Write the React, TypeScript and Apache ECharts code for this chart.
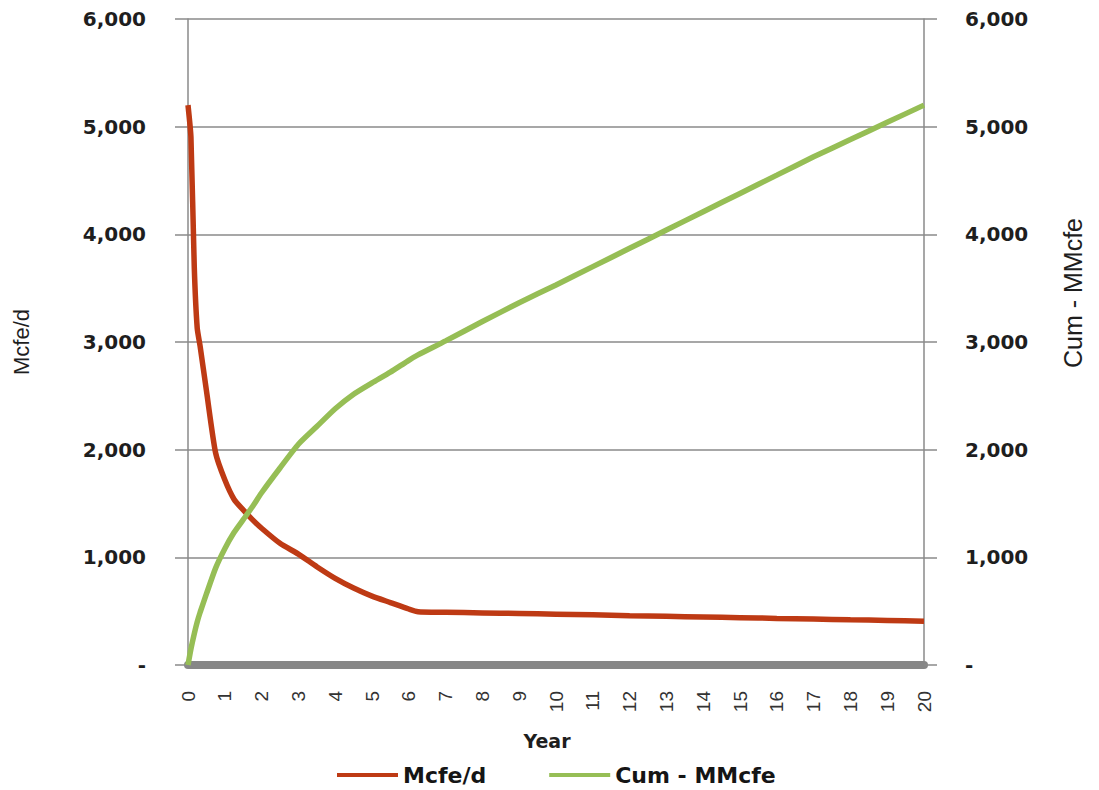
import React, { useEffect, useRef } from "react";
import * as echarts from "echarts";

const years = [0, 0.08, 0.17, 0.25, 0.33, 0.5, 0.75, 1, 1.25, 1.5, 1.75, 2, 2.5, 3, 3.5, 4, 4.5, 5, 5.5, 6, 6.25, 7, 8, 9, 10, 11, 12, 13, 14, 15, 16, 17, 18, 19, 20];
const mcfePerDay = [5200, 4900, 3700, 3130, 2960, 2550, 1970, 1720, 1540, 1440, 1350, 1270, 1130, 1030, 913, 805, 715, 640, 580, 520, 495, 490, 484, 478, 472, 466, 458, 452, 446, 440, 433, 427, 420, 414, 407];
const cumMMcfe = [0, 150, 290, 400, 490, 660, 900, 1080, 1230, 1350, 1470, 1600, 1830, 2050, 2215, 2380, 2515, 2620, 2720, 2830, 2880, 3010, 3190, 3365, 3530, 3700, 3870, 4040, 4210, 4380, 4550, 4720, 4880, 5040, 5200];
const seriesNames = ["Mcfe/d", "Cum - MMcfe"];
const xAxisTitle = "Year";
const leftAxisTitle = "Mcfe/d";
const rightAxisTitle = "Cum - MMcfe";

const fmt = (v: number) => (v === 0 ? "-" : v.toLocaleString("en-US"));

export default function App() {
  const ref = useRef<HTMLDivElement>(null);
  useEffect(() => {
    if (!ref.current) return;
    const chart = echarts.init(ref.current, null, { renderer: "svg" });
    const gridColor = "#8a8a8a";
    const yLabel = {
      fontFamily: "DejaVu Sans",
      fontWeight: "bold" as const,
      fontSize: 20,
      color: "#1e1e1e",
      margin: 42,
      formatter: (v: number) => fmt(v),
    };
    chart.setOption({
      animation: false,
      backgroundColor: "#ffffff",
      grid: { left: 188, right: 175, top: 19, bottom: 125, containLabel: false },
      xAxis: {
        type: "value",
        min: 0,
        max: 20,
        interval: 1,
        name: xAxisTitle,
        nameLocation: "middle",
        nameGap: 66,
        nameTextStyle: {
          fontFamily: "DejaVu Sans",
          fontWeight: "bold",
          fontSize: 19,
          color: "#1e1e1e",
          padding: [0, 18, 0, 0],
        },
        axisLine: { show: true, onZero: false, lineStyle: { color: "#878787", width: 8 } },
        axisTick: { show: false },
        splitLine: { show: false },
        axisLabel: {
          rotate: 90,
          margin: 26,
          fontFamily: "Liberation Sans",
          fontSize: 19,
          color: "#333",
        },
      },
      yAxis: [
        {
          type: "value",
          min: 0,
          max: 6000,
          interval: 1000,
          position: "left",
          name: leftAxisTitle,
          nameLocation: "middle",
          nameGap: 156,
          nameTextStyle: { fontFamily: "Liberation Sans", fontSize: 22, color: "#1e1e1e" },
          axisLine: { show: true, lineStyle: { color: gridColor, width: 1.5 } },
          axisTick: { show: true, length: 13, lineStyle: { color: gridColor, width: 1.5 } },
          splitLine: { show: true, lineStyle: { color: gridColor, width: 1.5 } },
          axisLabel: yLabel,
        },
        {
          type: "value",
          min: 0,
          max: 6000,
          interval: 1000,
          position: "right",
          axisLine: { show: true, lineStyle: { color: gridColor, width: 1.5 } },
          axisTick: { show: true, length: 13, lineStyle: { color: gridColor, width: 1.5 } },
          splitLine: { show: false },
          axisLabel: { ...yLabel, margin: 41 },
        },
      ],
      legend: {
        data: seriesNames,
        left: 332,
        top: 759,
        icon: "rect",
        itemWidth: 61,
        itemHeight: 4,
        itemGap: 63,
        textStyle: { fontFamily: "DejaVu Sans", fontWeight: "bold", fontSize: 22, color: "#151515" },
      },
      graphic: [
        {
          type: "text",
          x: 1073,
          y: 293,
          rotation: Math.PI / 2,
          style: {
            text: rightAxisTitle,
            align: "center",
            verticalAlign: "middle",
            fontFamily: "Liberation Sans",
            fontSize: 25,
            fill: "#1e1e1e",
          },
        },
      ],
      series: [
        {
          name: seriesNames[0],
          type: "line",
          yAxisIndex: 0,
          showSymbol: false,
          smooth: 0.2,
          lineStyle: { color: "#BE3A14", width: 5.5 },
          itemStyle: { color: "#BE3A14" },
          data: years.map((y, i) => [y, mcfePerDay[i]]),
        },
        {
          name: seriesNames[1],
          type: "line",
          yAxisIndex: 1,
          showSymbol: false,
          smooth: 0.2,
          lineStyle: { color: "#96BE55", width: 5.5 },
          itemStyle: { color: "#96BE55" },
          data: years.map((y, i) => [y, cumMMcfe[i]]),
        },
      ],
    });
    return () => chart.dispose();
  }, []);
  return <div ref={ref} style={{ position: "fixed", left: 0, top: 0, width: 1099, height: 790 }} />;
}
